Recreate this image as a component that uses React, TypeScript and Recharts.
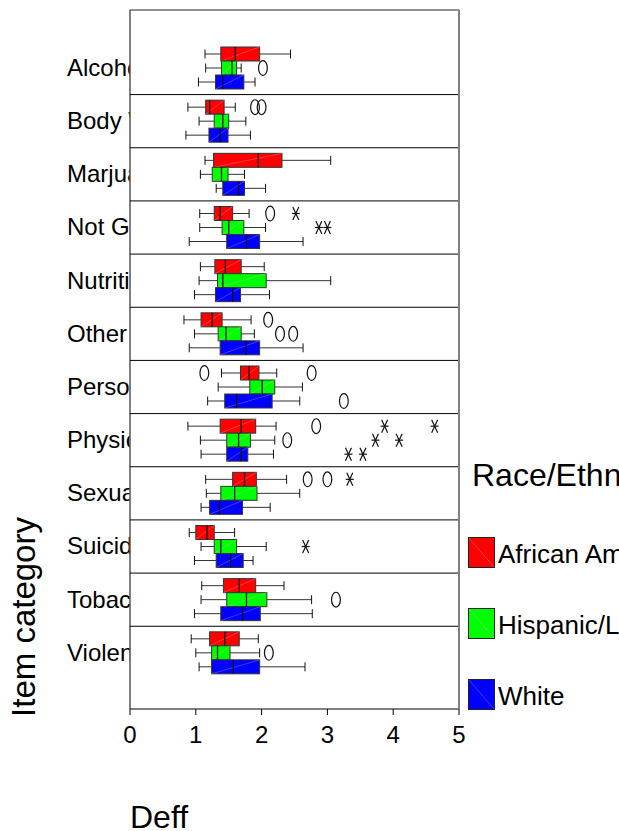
import React from "react";
import { Bar, ComposedChart, Legend, XAxis, YAxis } from "recharts";

const FONT = "'Liberation Sans', Arial, Helvetica, sans-serif";

const categories = [
  "Alcohol",
  "Body Weight",
  "Marjuana",
  "Not Grouped",
  "Nutrition",
  "Other",
  "Personal Safety",
  "Physical Activity",
  "Sexual Behavior",
  "Suicide",
  "Tobacco",
  "Violence",
];

// [lower whisker, Q1, median, Q3, upper whisker]
const africanAmerican = [
  [1.14, 1.38, 1.6, 1.97, 2.44],
  [0.88, 1.15, 1.21, 1.43, 1.6],
  [1.14, 1.27, 1.95, 2.31, 3.05],
  [1.06, 1.28, 1.37, 1.56, 1.81],
  [1.07, 1.29, 1.45, 1.69, 2.04],
  [0.82, 1.08, 1.25, 1.4, 1.84],
  [1.39, 1.68, 1.81, 1.96, 2.23],
  [0.88, 1.37, 1.69, 1.91, 2.22],
  [1.15, 1.56, 1.74, 1.92, 2.38],
  [0.9, 1.0, 1.17, 1.28, 1.59],
  [1.09, 1.42, 1.66, 1.91, 2.34],
  [0.93, 1.21, 1.44, 1.66, 1.95],
];
const hispanicLatino = [
  [1.15, 1.39, 1.55, 1.62, 1.69],
  [1.05, 1.28, 1.41, 1.5, 1.76],
  [1.07, 1.25, 1.39, 1.49, 1.74],
  [1.06, 1.4, 1.5, 1.73, 2.06],
  [1.05, 1.33, 1.41, 2.07, 3.05],
  [0.98, 1.34, 1.46, 1.69, 1.89],
  [1.34, 1.82, 2.01, 2.2, 2.62],
  [1.07, 1.47, 1.65, 1.83, 2.2],
  [1.16, 1.38, 1.59, 1.93, 2.58],
  [1.08, 1.28, 1.38, 1.62, 2.07],
  [1.08, 1.47, 1.77, 2.08, 2.76],
  [1.0, 1.24, 1.33, 1.52, 1.97],
];
const white = [
  [1.04, 1.3, 1.41, 1.73, 1.9],
  [0.85, 1.2, 1.37, 1.49, 1.83],
  [1.31, 1.41, 1.65, 1.74, 2.06],
  [0.9, 1.47, 1.77, 1.97, 2.63],
  [0.98, 1.3, 1.56, 1.68, 2.12],
  [0.9, 1.37, 1.76, 1.97, 2.63],
  [1.18, 1.44, 1.62, 2.16, 2.58],
  [1.08, 1.47, 1.69, 1.79, 2.18],
  [1.08, 1.21, 1.36, 1.71, 2.13],
  [0.98, 1.31, 1.53, 1.72, 1.87],
  [0.98, 1.38, 1.71, 1.98, 2.77],
  [1.05, 1.24, 1.57, 1.97, 2.66],
];

// outliers (circles) and extremes (stars)
const africanAmericanCircles = [[], [1.9, 2.0], [], [2.13], [], [2.1], [1.13, 2.76], [2.83], [2.7, 3.0], [], [], []];
const africanAmericanStars = [[], [], [], [2.52], [], [], [], [3.87, 4.63], [3.34], [], [], []];
const hispanicLatinoCircles = [[2.02], [], [], [], [], [2.28, 2.48], [], [2.39], [], [], [3.13], [2.11]];
const hispanicLatinoStars = [[], [], [], [2.87, 3.0], [], [], [], [3.73, 4.09], [], [2.67], [], []];
const whiteCircles = [[], [], [], [], [], [], [3.25], [], [], [], [], []];
const whiteStars = [[], [], [], [], [], [], [], [3.32, 3.54], [], [], [], []];

const xTicks = [0, 1, 2, 3, 4, 5];

interface SeriesDef {
  key: string;
  name: string;
  color: string;
  boxes: number[][];
  circles: number[][];
  stars: number[][];
}

const SERIES: SeriesDef[] = [
  { key: "aa", name: "African American", color: "#FF0000", boxes: africanAmerican, circles: africanAmericanCircles, stars: africanAmericanStars },
  { key: "hl", name: "Hispanic/Latino", color: "#00FF00", boxes: hispanicLatino, circles: hispanicLatinoCircles, stars: hispanicLatinoStars },
  { key: "wh", name: "White", color: "#0000FF", boxes: white, circles: whiteCircles, stars: whiteStars },
];

const rows = categories.map((cat, i) => {
  const row: Record<string, unknown> = { cat, i };
  SERIES.forEach((s) => {
    const all = [...s.boxes[i], ...s.circles[i], ...s.stars[i]];
    row[s.key] = [Math.min(...all), Math.max(...all)];
  });
  return row;
});

const W = 619;
const H = 831;
const MARGIN = { top: 9, right: 159, bottom: 82, left: 0 };
const X_AXIS_H = 40;
const TOP_AXIS_H = 1;
const PAD_TOP = 31;
const PAD_BOTTOM = 30;
const BAR = 14;
const plotH = H - MARGIN.top - MARGIN.bottom - X_AXIS_H - TOP_AXIS_H;
const band = (plotH - PAD_TOP - PAD_BOTTOM) / categories.length;

function makeBoxShape(s: SeriesDef, first: boolean) {
  return function BoxShape(props: any) {
    const { x, y, width, height, payload } = props;
    const i = payload.i as number;
    const [a, b] = payload[s.key] as number[];
    const px = (v: number) => x + ((v - a) / (b - a)) * width;
    const [lo, q1, med, q3, hi] = s.boxes[i];
    const cy = y + height / 2;
    const bandTop = y - (band - SERIES.length * height) / 2;
    return (
      <g>
        {first && i > 0 && (
          <line x1={px(xTicks[0])} x2={px(xTicks[xTicks.length - 1])} y1={bandTop} y2={bandTop} stroke="#000" strokeWidth={1} />
        )}
        <line x1={px(lo)} x2={px(q1)} y1={cy} y2={cy} stroke="#333" strokeWidth={1} />
        <line x1={px(q3)} x2={px(hi)} y1={cy} y2={cy} stroke="#333" strokeWidth={1} />
        <line x1={px(lo)} x2={px(lo)} y1={cy - 4.5} y2={cy + 4.5} stroke="#111" strokeWidth={1} />
        <line x1={px(hi)} x2={px(hi)} y1={cy - 4.5} y2={cy + 4.5} stroke="#111" strokeWidth={1} />
        <rect x={px(q1)} y={y} width={px(q3) - px(q1)} height={height} fill={s.color} stroke="#333" strokeWidth={1} />
        <line x1={px(q1)} y1={y + height} x2={px(q3)} y2={y} stroke="#fff" strokeOpacity={0.4} strokeWidth={0.6} />
        <line x1={px(med)} x2={px(med)} y1={y} y2={y + height} stroke="#111" strokeWidth={1.3} />
        {s.circles[i].map((v) => (
          <ellipse key={`c${v}`} cx={px(v)} cy={cy} rx={4.4} ry={7.4} fill="none" stroke="#111" strokeWidth={1.2} />
        ))}
        {s.stars[i].map((v) => (
          <g key={`s${v}`} stroke="#111" strokeWidth={1.2}>
            <line x1={px(v) - 3} y1={cy - 6.5} x2={px(v) + 3} y2={cy + 6.5} />
            <line x1={px(v) + 3} y1={cy - 6.5} x2={px(v) - 3} y2={cy + 6.5} />
            <line x1={px(v) - 4} y1={cy} x2={px(v) + 4} y2={cy} />
          </g>
        ))}
      </g>
    );
  };
}

function CategoryTick({ y, payload }: any) {
  return (
    <svg x={0} y={y - 20} width={129.5} height={40}>
      <text x={67} y={20} dy="0.35em" fontSize={24} fontFamily={FONT} fill="#000">
        {payload.value}
      </text>
    </svg>
  );
}

function RaceLegend({ payload }: any) {
  return (
    <svg width={159} height={260}>
      <text x={12} y={31} fontSize={32} fontFamily={FONT} fill="#000">
        Race/Ethnicity
      </text>
      {(payload ?? []).map((p: any, i: number) => (
        <g key={p.value} transform={`translate(8, ${82 + i * 71})`}>
          <rect x={0.5} y={0.5} width={26} height={30} fill={p.color} stroke="#222" />
          <line x1={1} y1={1} x2={26} y2={30} stroke="#fff" strokeOpacity={0.4} strokeWidth={0.6} />
          <text x={30} y={26} fontSize={26} fontFamily={FONT} fill="#000">
            {p.value}
          </text>
        </g>
      ))}
    </svg>
  );
}

export default function App() {
  return (
    <div style={{ position: "absolute", left: 0, top: 0, width: W, height: H, overflow: "hidden", background: "#fff" }}>
      <ComposedChart width={W} height={H} data={rows} layout="vertical" margin={MARGIN} barGap={0}>
        <XAxis
          type="number"
          domain={[0, 5]}
          ticks={xTicks}
          height={X_AXIS_H}
          tickSize={6}
          tickMargin={11}
          tick={{ fontSize: 24, fill: "#000", fontFamily: FONT }}
          tickLine={{ stroke: "#000" }}
          axisLine={{ stroke: "#000" }}
        />
        <XAxis
          xAxisId="top"
          orientation="top"
          type="number"
          domain={[0, 5]}
          height={TOP_AXIS_H}
          tick={false}
          tickLine={false}
          axisLine={{ stroke: "#222" }}
        />
        <YAxis
          type="category"
          dataKey="cat"
          width={130}
          interval={0}
          padding={{ top: PAD_TOP, bottom: PAD_BOTTOM }}
          tickLine={false}
          axisLine={{ stroke: "#000" }}
          tick={<CategoryTick />}
        />
        <YAxis
          yAxisId="right"
          orientation="right"
          type="category"
          dataKey="cat"
          width={1}
          tick={false}
          tickLine={false}
          axisLine={{ stroke: "#808080", strokeWidth: 2 }}
        />
        {SERIES.map((s, k) => (
          <Bar
            key={s.key}
            dataKey={s.key}
            name={s.name}
            fill={s.color}
            barSize={BAR}
            shape={makeBoxShape(s, k === 0)}
            isAnimationActive={false}
          />
        ))}
        <Legend
          layout="vertical"
          align="center"
          verticalAlign="middle"
          content={<RaceLegend />}
          wrapperStyle={{ left: 460, top: 455, width: 159, height: 260 }}
        />
      </ComposedChart>
      <svg width={W} height={H} style={{ position: "absolute", left: 0, top: 0, pointerEvents: "none" }}>
        <text x={130} y={828} fontSize={32} fontFamily={FONT} fill="#000">
          Deff
        </text>
        <text transform="rotate(-90)" x={-617} y={35} textAnchor="middle" fontSize={33} fontFamily={FONT} fill="#000">
          Item category
        </text>
      </svg>
    </div>
  );
}
